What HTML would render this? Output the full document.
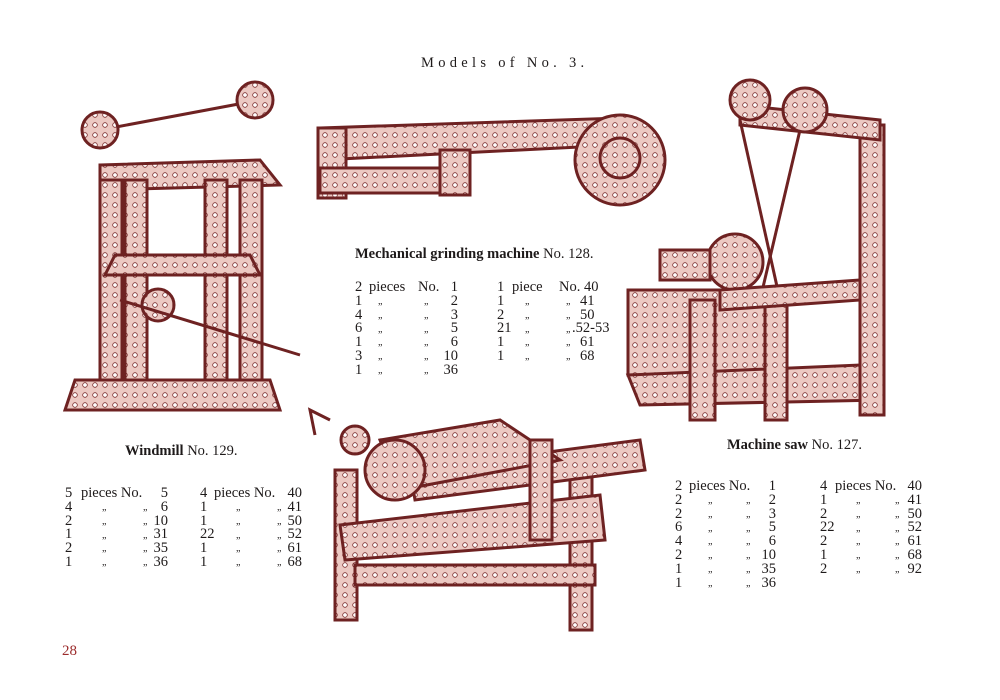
<!DOCTYPE html>
<html><head><meta charset="utf-8"><style>
body{margin:0;width:1000px;height:700px;background:#fff;position:relative;overflow:hidden;font-family:"Liberation Serif",serif;color:#1e1a1a}
.c{position:absolute;font-size:14.5px;line-height:13.8px;white-space:pre}
.r{text-align:right}
.t{position:absolute;font-size:14.5px;white-space:nowrap}
svg{position:absolute;left:0;top:0}
</style></head><body>
<svg width="1000" height="700" viewBox="0 0 1000 700">
<defs>
<pattern id="h" width="10" height="10" patternUnits="userSpaceOnUse">
<rect width="10" height="10" fill="#ecc9c3"/>
<circle cx="5" cy="5" r="2.3" fill="#fff" stroke="#7a2a2a" stroke-width="0.8"/>
</pattern>
</defs>
<g fill="url(#h)" stroke="#6e2222" stroke-width="3">
<!-- windmill -->
<polygon points="100,165 260,160 280,185 100,190"/>
<rect x="100" y="180" width="22" height="220"/>
<rect x="125" y="180" width="22" height="205"/>
<rect x="205" y="180" width="22" height="215"/>
<rect x="240" y="180" width="22" height="210"/>
<polygon points="75,380 270,380 280,410 65,410"/>
<polygon points="115,255 250,255 260,275 105,275"/>
<line x1="100" y1="130" x2="260" y2="100"/>
<circle cx="100" cy="130" r="18"/><circle cx="255" cy="100" r="18"/>
<circle cx="158" cy="305" r="16"/>
<line x1="120" y1="300" x2="300" y2="355"/>
<!-- grinder -->
<polygon points="320,128 620,118 620,145 320,160"/>
<rect x="318" y="128" width="28" height="70"/>
<rect x="320" y="168" width="150" height="25"/>
<rect x="440" y="150" width="30" height="45"/>
<circle cx="620" cy="160" r="45"/>
<circle cx="620" cy="158" r="20"/>
<!-- machine saw -->
<rect x="628" y="290" width="140" height="85"/>
<polygon points="628,375 860,365 880,400 640,405"/>
<rect x="690" y="300" width="25" height="120"/>
<rect x="765" y="300" width="22" height="120"/>
<rect x="860" y="125" width="24" height="290"/>
<polygon points="740,105 880,120 880,140 740,125"/>
<circle cx="750" cy="100" r="20"/><circle cx="805" cy="110" r="22"/>
<circle cx="735" cy="262" r="28"/>
<rect x="660" y="250" width="50" height="30"/>
<line x1="740" y1="120" x2="780" y2="300"/>
<line x1="800" y1="130" x2="760" y2="300"/>
<polygon points="720,290 860,280 860,300 720,310"/>
<!-- bottom machine -->
<rect x="335" y="470" width="22" height="150"/>
<rect x="570" y="460" width="22" height="170"/>
<polygon points="340,525 600,495 605,540 345,560"/>
<rect x="355" y="565" width="240" height="20"/>
<polygon points="410,470 640,440 645,470 415,500"/>
<polygon points="380,440 500,420 560,460 400,490"/>
<rect x="530" y="440" width="22" height="100"/>
<circle cx="395" cy="470" r="30"/>
<circle cx="355" cy="440" r="14"/>
<polyline points="330,420 310,410 315,435" fill="none"/>
</g>
</svg>
<div class="t" style="left:421px;top:55px;letter-spacing:4.3px;font-size:14.5px">Models of No. 3.</div>

<div class="t" style="left:355px;top:246px"><b>Mechanical grinding machine</b> No. 128.</div>
<div class="c" style="left:355px;top:281px">2
1
4
6
1
3
1</div>
<div class="c" style="left:369px;top:281px">pieces</div>
<div class="c" style="left:378px;top:295px;font-size:10px">„
„
„
„
„
„</div>
<div class="c" style="left:418px;top:281px">No.</div>
<div class="c" style="left:424px;top:295px;font-size:10px">„
„
„
„
„
„</div>
<div class="c r" style="left:420px;width:38px;top:281px">1
2
3
5
6
10
36</div>
<div class="c" style="left:497px;top:281px">1
1
2
21
1
1</div>
<div class="c" style="left:512px;top:281px">piece</div>
<div class="c" style="left:525px;top:295px;font-size:10px">„
„
„
„
„</div>
<div class="c" style="left:559px;top:281px">No. 40</div>
<div class="c" style="left:566px;top:295px;font-size:10px">„
„
„
„
„</div>
<div class="c" style="left:580px;top:295px">41
50</div>
<div class="c" style="left:572px;top:322px">.52-53</div>
<div class="c" style="left:580px;top:336px">61
68</div>

<div class="t" style="left:125px;top:443px"><b>Windmill</b> No. 129.</div>
<div class="c" style="left:65px;top:487px">5
4
2
1
2
1</div>
<div class="c" style="left:81px;top:487px">pieces No.</div>
<div class="c" style="left:102px;top:501px;font-size:10px">„
„
„
„
„</div>
<div class="c" style="left:143px;top:501px;font-size:10px">„
„
„
„
„</div>
<div class="c r" style="left:130px;width:38px;top:487px">5
6
10
31
35
36</div>
<div class="c" style="left:200px;top:487px">4
1
1
22
1
1</div>
<div class="c" style="left:214px;top:487px">pieces No.</div>
<div class="c" style="left:236px;top:501px;font-size:10px">„
„
„
„
„</div>
<div class="c" style="left:277px;top:501px;font-size:10px">„
„
„
„
„</div>
<div class="c r" style="left:264px;width:38px;top:487px">40
41
50
52
61
68</div>

<div class="t" style="left:727px;top:437px"><b>Machine saw</b> No. 127.</div>
<div class="c" style="left:675px;top:480px">2
2
2
6
4
2
1
1</div>
<div class="c" style="left:689px;top:480px">pieces No.</div>
<div class="c" style="left:708px;top:494px;font-size:10px">„
„
„
„
„
„
„</div>
<div class="c" style="left:746px;top:494px;font-size:10px">„
„
„
„
„
„
„</div>
<div class="c r" style="left:738px;width:38px;top:480px">1
2
3
5
6
10
35
36</div>
<div class="c" style="left:820px;top:480px">4
1
2
22
2
1
2</div>
<div class="c" style="left:835px;top:480px">pieces No.</div>
<div class="c" style="left:856px;top:494px;font-size:10px">„
„
„
„
„
„</div>
<div class="c" style="left:895px;top:494px;font-size:10px">„
„
„
„
„
„</div>
<div class="c r" style="left:884px;width:38px;top:480px">40
41
50
52
61
68
92</div>

<div class="t" style="left:62px;top:643px;color:#9b2a2a;font-size:15px">28</div>
</body></html>
